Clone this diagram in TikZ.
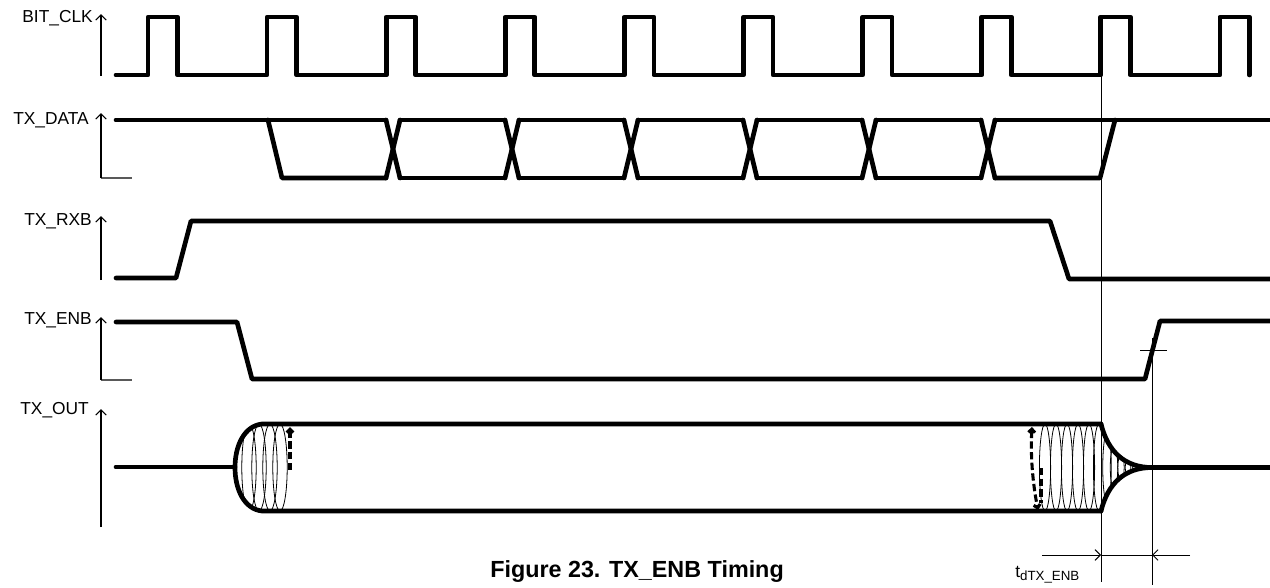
\documentclass[tikz,border=0pt]{standalone}
\usepackage{fontspec}
\setmainfont{Liberation Sans}
\usetikzlibrary{arrows.meta}
\begin{document}
\begin{tikzpicture}[x=0.75pt,y=-0.75pt,
  sig/.style={line width=3.5pt, line cap=round, line join=round},
  axis/.style={line width=0.8pt, -{Straight Barb[length=4pt,width=8pt]}},
  foot/.style={line width=0.8pt, draw=black!65},
  thinline/.style={line width=0.75pt},
  osc/.style={line width=0.6pt},
  dashsig/.style={line width=2.3pt, dash pattern=on 5.5pt off 2.5pt},
  dimarrow/.style={line width=0.75pt, -{Straight Barb[length=4pt,width=8pt]}},
  lab/.style={font=\fontsize{13}{15}\selectfont, anchor=east, inner sep=0pt}]
\useasboundingbox (0,0) rectangle (1270,587);

% ---------- labels ----------
\node[lab] (lclk) at (93,18) {BIT\_CLK};
\node[lab] (ldata) at (89,120) {TX\_DATA};
\node[lab] (lrxb) at (92,221) {TX\_RXB};
\node[lab] (lenb) at (92,320) {TX\_ENB};
\node[lab] (lout) at (89,410) {TX\_OUT};

% ---------- axes ----------
\draw[axis] (101,76) -- (101,14);
\draw[foot] (101,178) -- (132,178);
\draw[axis] (101,178) -- (101,113);
\draw[axis] (101,280) -- (101,216);
\draw[foot] (101,380) -- (132,380);
\draw[axis] (101,380) -- (101,317);
\draw[axis] (101,527) -- (101,409);

% ---------- BIT_CLK ----------
\draw[sig] (116,75) \foreach \k in {0,...,9} {
  -- ({148+119.1*\k},75) -- ({148+119.1*\k},17) -- ({177.5+119.1*\k},17) -- ({177.5+119.1*\k},75) };

% ---------- TX_DATA ----------
\draw[sig] (116,120) -- (386,120);
\draw[sig] (268,120) -- (282,178) -- (386,178);
\foreach \t in {386,505,624,743,862,981} {
  \draw[sig] (\t,120) -- ({\t+14},178);
  \draw[sig] (\t,178) -- ({\t+14},120);
}
\foreach \t in {400,519,638,757,876} {
  \draw[sig] (\t,120) -- ({\t+105},120);
  \draw[sig] (\t,178) -- ({\t+105},178);
}
\draw[sig] (995,120) -- (1270,120);
\draw[sig] (995,178) -- (1100,178) -- (1115,120);

% ---------- TX_RXB ----------
\draw[sig] (116,278) -- (176,278) -- (191,221) -- (1050,221) -- (1069,279) -- (1270,279);

% ---------- TX_ENB ----------
\draw[sig] (116,322) -- (237,322) -- (252,379) -- (1145,379) -- (1160,321) -- (1270,321);

% ---------- TX_OUT ----------
\begin{scope}
  \clip (262,424) .. controls (244,426) and (235,446) .. (235,467.5)
        .. controls (235,489) and (244,509) .. (262,511) -- (300,511) -- (300,424) -- cycle;
  \foreach \c in {249,259,270,280}
    \draw[osc] (\c,467.5) ellipse [x radius=5.4pt, y radius=32.6pt];
\end{scope}
\begin{scope}
  \clip (1030,424) rectangle (1101,511);
  \foreach \c in {1045,1056,1067,1078,1089,1099}
    \draw[osc] (\c,467.5) ellipse [x radius=4.2pt, y radius=32.6pt];
\end{scope}
\begin{scope}
  \clip (1101,424) .. controls (1108,452) and (1125,467.5) .. (1152,467.5)
        .. controls (1125,467.5) and (1108,483) .. (1101,511) -- cycle;
  \draw[osc] (1107,467.5) ellipse [x radius=3.2pt, y radius=26pt];
  \draw[osc] (1114,467.5) ellipse [x radius=2.8pt, y radius=16pt];
  \draw[osc] (1121,467.5) ellipse [x radius=2.4pt, y radius=9.5pt];
  \draw[osc] (1128,467.5) ellipse [x radius=2.1pt, y radius=5.5pt];
  \draw[osc] (1135,467.5) ellipse [x radius=1.8pt, y radius=3pt];
  \draw[osc] (1142,467.5) ellipse [x radius=1.5pt, y radius=1.5pt];
\end{scope}

\draw[sig] (116,467) -- (235,467);
\draw[sig] (1101,424) -- (262,424) .. controls (244,426) and (235,446) .. (235,467.5)
      .. controls (235,489) and (244,509) .. (262,511) -- (1101,511);
\draw[sig] (1101,424) .. controls (1108,452) and (1125,467.5) .. (1152,467.5) -- (1270,467.5);
\draw[sig] (1101,511) .. controls (1108,483) and (1125,467.5) .. (1152,467.5);

\draw[dashsig, -{Straight Barb[length=2.5pt,width=5pt]}] (290,470) -- (290,427);
\draw[dashsig, {Straight Barb[length=2.5pt,width=5pt]}-{Straight Barb[length=2.5pt,width=5pt]}]
  (1032,427) .. controls (1030,460) and (1034,490) .. (1038,510);
\draw[dashsig] (1041,468) -- (1041,503);

% ---------- timing markers ----------
\coordinate (v1top) at (1101,75);
\coordinate (v1bot) at (1101,582);
\coordinate (v2top) at (1152,338);
\coordinate (v2bot) at (1152,585);
\draw[thinline] (v1top) -- (v1bot);
\draw[thinline] (v2top) -- (v2bot);
\draw[thinline] (1140,350) -- (1167,350);

\coordinate (d1) at (1101,555);
\coordinate (d2) at (1152,555);
\coordinate (dl) at (1042,555);
\coordinate (dr) at (1190,555);
\draw[dimarrow] (dl) -- (d1);
\draw[thinline] (d1) -- (d2);
\draw[dimarrow] (dr) -- (d2);

\node[anchor=base west, inner sep=0pt] (tlab) at (1015,577)
  {\fontsize{13}{15}\selectfont t\raisebox{-2.3pt}{\fontsize{10}{12}\selectfont dTX\_ENB}};

% ---------- caption ----------
\node[anchor=base west, inner sep=0pt, font=\bfseries\fontsize{17.5}{20}\selectfont] (cap) at (490,577)
  {Figure 23. TX\_ENB Timing};
\end{tikzpicture}
\end{document}
